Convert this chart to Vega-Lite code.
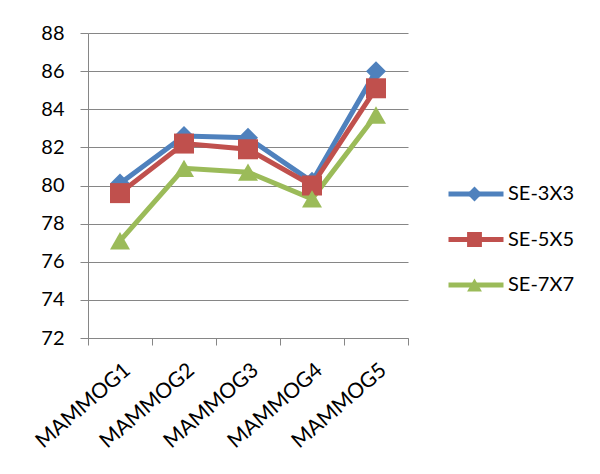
{
  "$schema": "https://vega.github.io/schema/vega-lite/v6.json",
  "width": 320,
  "height": 305,
  "autosize": {"type": "none"},
  "padding": {"left": 88, "top": 33, "right": 192, "bottom": 136},
  "background": "white",
  "config": {
    "font": "Lato",
    "view": {"stroke": null},
    "axis": {"labelFont": "Lato", "labelFontSize": 20, "labelColor": "#000000"}
  },
  "data": {
    "values": [
      {"image": "MAMMOG1", "method": "SE-3X3", "accuracy": 80.1},
      {"image": "MAMMOG2", "method": "SE-3X3", "accuracy": 82.6},
      {"image": "MAMMOG3", "method": "SE-3X3", "accuracy": 82.5},
      {"image": "MAMMOG4", "method": "SE-3X3", "accuracy": 80.2},
      {"image": "MAMMOG5", "method": "SE-3X3", "accuracy": 86.0},
      {"image": "MAMMOG1", "method": "SE-5X5", "accuracy": 79.6},
      {"image": "MAMMOG2", "method": "SE-5X5", "accuracy": 82.2},
      {"image": "MAMMOG3", "method": "SE-5X5", "accuracy": 81.9},
      {"image": "MAMMOG4", "method": "SE-5X5", "accuracy": 80.0},
      {"image": "MAMMOG5", "method": "SE-5X5", "accuracy": 85.1},
      {"image": "MAMMOG1", "method": "SE-7X7", "accuracy": 77.1},
      {"image": "MAMMOG2", "method": "SE-7X7", "accuracy": 80.9},
      {"image": "MAMMOG3", "method": "SE-7X7", "accuracy": 80.7},
      {"image": "MAMMOG4", "method": "SE-7X7", "accuracy": 79.3},
      {"image": "MAMMOG5", "method": "SE-7X7", "accuracy": 83.7}
    ]
  },
  "encoding": {
    "x": {
      "field": "image",
      "type": "nominal",
      "sort": null,
      "title": null,
      "scale": {"type": "band", "paddingInner": 0, "paddingOuter": 0},
      "axis": {
        "tickBand": "extent",
        "grid": false,
        "domainColor": "#868686",
        "tickColor": "#868686",
        "tickSize": 7,
        "labelFontSize": 21,
        "labelAngle": -41,
        "labelPadding": 14
      }
    },
    "y": {
      "field": "accuracy",
      "type": "quantitative",
      "title": null,
      "scale": {"domain": [72, 88], "nice": false, "zero": false},
      "axis": {
        "values": [72, 74, 76, 78, 80, 82, 84, 86, 88],
        "grid": true,
        "gridColor": "#868686",
        "domainColor": "#868686",
        "tickColor": "#868686",
        "tickSize": 8,
        "labelPadding": 16
      }
    }
  },
  "layer": [
    {
      "mark": {"type": "line", "strokeWidth": 5},
      "encoding": {
        "color": {
          "field": "method",
          "type": "nominal",
          "scale": {"domain": ["SE-3X3", "SE-5X5", "SE-7X7"], "range": ["#4F81BD", "#C0504D", "#9BBB59"]},
          "legend": {
            "title": null,
            "orient": "none",
            "legendX": 358,
            "legendY": 151,
            "symbolType": "stroke",
            "symbolSize": 3025,
            "symbolStrokeWidth": 5,
            "clipHeight": 20,
            "rowPadding": 25.5,
            "labelFontSize": 20,
            "labelFont": "Lato",
            "labelColor": "#000000",
            "labelOffset": 2
          }
        }
      }
    },
    {
      "mark": {"type": "point", "filled": true, "opacity": 1, "size": 400},
      "encoding": {
        "fill": {
          "field": "method",
          "type": "nominal",
          "scale": {"domain": ["SE-7X7", "SE-5X5", "SE-3X3"], "range": ["#9BBB59", "#C0504D", "#4F81BD"]},
          "legend": {
            "title": null,
            "orient": "none",
            "legendX": 379,
            "legendY": 151,
            "values": ["SE-3X3", "SE-5X5", "SE-7X7"],
            "symbolSize": 220,
            "symbolOpacity": 1,
            "symbolStrokeWidth": 0,
            "clipHeight": 20,
            "rowPadding": 25.5,
            "labelExpr": "''"
          }
        },
        "shape": {
          "field": "method",
          "type": "nominal",
          "scale": {"domain": ["SE-7X7", "SE-5X5", "SE-3X3"], "range": ["triangle-up", "square", "diamond"]}
        }
      }
    }
  ]
}
